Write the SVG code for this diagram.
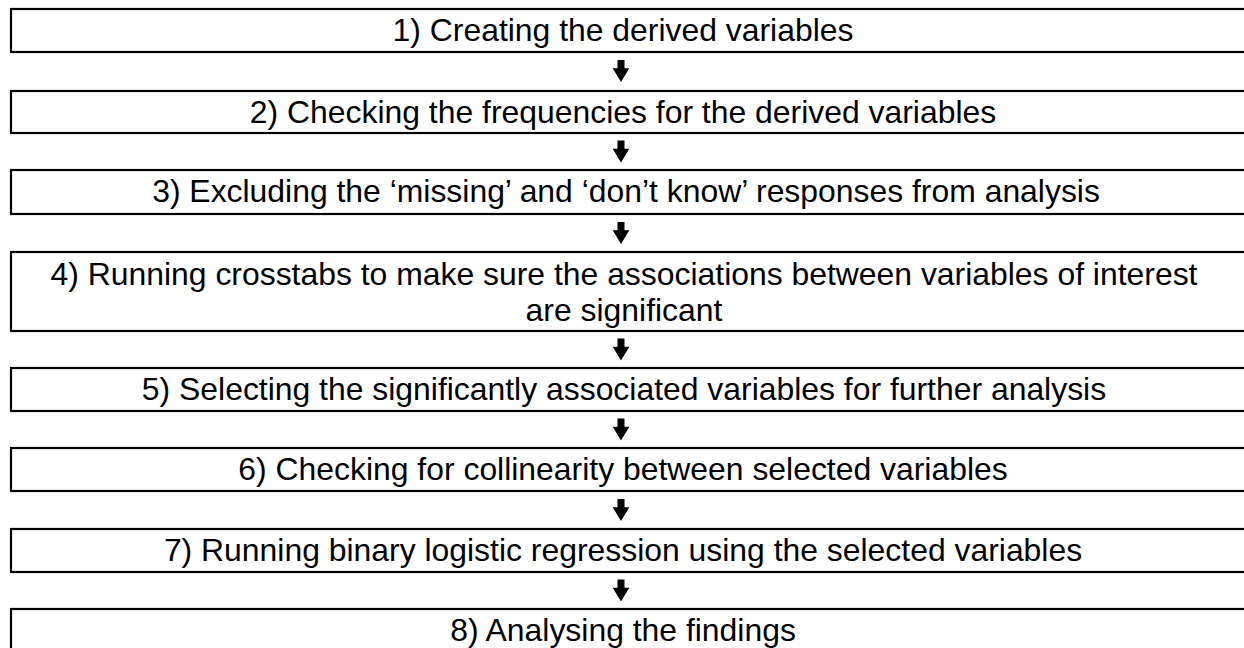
<svg xmlns="http://www.w3.org/2000/svg" width="1244" height="648" viewBox="0 0 1244 648">
<style>
  .box { fill: #ffffff; stroke: #000000; stroke-width: 2.2; }
  .lbl { font-family: "Liberation Sans", Arial, sans-serif; font-size: 31.9px; fill: #000000; text-anchor: middle; }
  .arr { fill: #000000; }
</style>
<defs>
  <path id="down" d="M-3.5,0 L3.5,0 L3.5,8.3 L8.3,8.3 L0,22 L-8.3,8.3 L-3.5,8.3 Z"/>
</defs>
<rect width="1244" height="648" fill="#ffffff"/>
<g id="connectors" class="arr">
  <use href="#down" x="621" y="60"/>
  <use href="#down" x="621" y="140.5"/>
  <use href="#down" x="621" y="222"/>
  <use href="#down" x="621" y="338.5"/>
  <use href="#down" x="621" y="418.5"/>
  <use href="#down" x="621" y="499"/>
  <use href="#down" x="621" y="579.5"/>
</g>
<g id="step1">
  <rect class="box" x="11" y="9" width="1250" height="43"/>
  <text class="lbl" x="623" y="41">1) Creating the derived variables</text>
</g>
<g id="step2">
  <rect class="box" x="11" y="91" width="1250" height="42"/>
  <text class="lbl" x="623" y="123">2) Checking the frequencies for the derived variables</text>
</g>
<g id="step3">
  <rect class="box" x="11" y="170" width="1250" height="44"/>
  <text class="lbl" x="626" y="202">3) Excluding the ‘missing’ and ‘don’t know’ responses from analysis</text>
</g>
<g id="step4">
  <rect class="box" x="11" y="252" width="1250" height="79"/>
  <text class="lbl" x="624" y="285">4) Running crosstabs to make sure the associations between variables of interest</text>
  <text class="lbl" x="624" y="321">are significant</text>
</g>
<g id="step5">
  <rect class="box" x="11" y="368" width="1250" height="43"/>
  <text class="lbl" x="624" y="400">5) Selecting the significantly associated variables for further analysis</text>
</g>
<g id="step6">
  <rect class="box" x="11" y="448" width="1250" height="43"/>
  <text class="lbl" x="623" y="480">6) Checking for collinearity between selected variables</text>
</g>
<g id="step7">
  <rect class="box" x="11" y="529" width="1250" height="43"/>
  <text class="lbl" x="623" y="561">7) Running binary logistic regression using the selected variables</text>
</g>
<g id="step8">
  <rect class="box" x="11" y="609" width="1250" height="60"/>
  <text class="lbl" x="623" y="641">8) Analysing the findings</text>
</g>
</svg>
